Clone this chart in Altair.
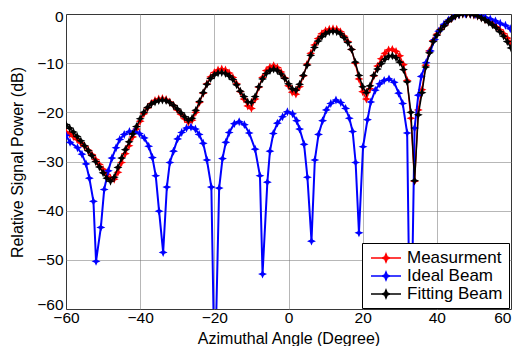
import altair as alt
import pandas as pd

angles = list(range(-60, 61))

measured = [
    -24.0, -24.4, -24.9, -25.5, -26.2, -26.9, -27.7, -28.6, -29.6, -30.6,
    -31.6, -32.6, -33.4, -33.6, -32.2, -30.2, -28.4, -26.8, -25.0, -23.4,
    -21.8, -20.3, -19.1, -18.2, -17.6, -17.3, -17.2, -17.4, -17.9, -18.6,
    -19.5, -20.4, -21.3, -22.0, -21.6, -20.0, -18.0, -16.1, -14.2, -12.8,
    -11.9, -11.4, -11.2, -11.4, -12.0, -12.9, -14.2, -15.8, -17.3, -18.7,
    -19.2, -17.3, -14.9, -12.9, -11.5, -10.8, -10.5, -10.9, -11.8, -13.0,
    -14.6, -15.9, -16.3, -14.8, -12.6, -10.2, -8.0, -6.3, -5.0, -4.0,
    -3.4, -3.1, -3.0, -3.1, -3.6, -4.5, -5.6, -7.2, -10.0, -13.2,
    -15.8, -17.3, -15.2, -12.6, -10.6, -9.1, -8.0, -7.3, -7.2, -7.6,
    -8.5, -10.3, -13.5, -21.2, -34.0, -19.5, -15.4, -10.4, -7.5, -5.4,
    -4.1, -3.1, -2.3, -1.5, -0.9, -0.4, -0.1, 0.0, 0.0, -0.05,
    -0.2, -0.4, -0.7, -1.1, -1.5, -2.0, -2.6, -3.2, -4.0, -4.9, -5.9,
]

fitting = [
    -22.5, -23.2, -24.0, -24.9, -25.8, -26.8, -27.8, -28.8, -30.0, -31.1,
    -32.3, -33.4, -34.0, -33.2, -31.2, -29.3, -27.6, -26.0, -24.4, -22.9,
    -21.3, -20.0, -19.0, -18.3, -17.9, -17.6, -17.5, -17.6, -18.0, -18.6,
    -19.3, -20.1, -20.9, -21.6, -21.2, -19.6, -17.8, -16.0, -14.3, -13.1,
    -12.4, -12.0, -11.9, -12.1, -12.6, -13.3, -14.4, -15.7, -16.8, -17.9,
    -18.0, -16.8, -14.8, -13.2, -12.1, -11.5, -11.2, -11.5, -12.2, -13.1,
    -14.2, -15.2, -15.5, -14.3, -12.5, -10.4, -8.4, -6.8, -5.5, -4.6,
    -4.0, -3.6, -3.5, -3.6, -4.0, -4.8, -5.8, -7.2, -9.8, -12.5,
    -14.8, -16.0, -14.6, -12.5, -11.2, -10.1, -9.2, -8.6, -8.5, -8.9,
    -9.8, -11.3, -13.8, -20.0, -33.9, -20.5, -16.0, -10.8, -7.9, -5.6,
    -4.3, -3.2, -2.4, -1.5, -0.9, -0.4, -0.15, 0.0, 0.0, -0.05,
    -0.15, -0.4, -0.8, -1.2, -1.7, -2.2, -2.8, -3.6, -4.5, -5.6, -6.9,
]

ideal_angle = [
    -60.0, -58.9, -56.9, -55.7, -54.6, -53.7, -52.6, -51.9, -50.6, -49.7,
    -48.6, -47.6, -46.5, -45.5, -44.3, -42.9, -41.6, -40.2, -38.9, -37.7,
    -36.7, -35.8, -34.9, -33.8, -32.8, -32.0, -31.0, -29.9, -28.8, -27.5,
    -26.3, -25.1, -24.1, -23.0, -22.0, -20.8, -19.9, -18.7, -17.8, -16.9,
    -16.0, -14.6, -13.3, -11.9, -10.6, -9.0, -7.7, -7.0, -5.7, -5.0,
    -4.1, -3.0, -1.6, -0.3, 1.1, 2.2, 3.0, 4.2, 5.1, 6.2,
    7.1, 8.1, 9.2, 10.2, 11.4, 12.8, 14.1, 15.4, 16.4, 17.3,
    18.1, 19.0, 20.1, 21.3, 22.2, 23.4, 24.6, 25.8, 27.1, 28.5,
    29.7, 30.8, 32.0, 32.9, 34.0, 35.0, 35.8, 37.1, 38.3, 39.4,
    40.5, 41.9, 43.2, 44.6, 45.9, 47.7, 49.1, 50.4, 51.8, 53.1,
    54.4, 55.8, 57.1, 58.5, 59.8,
]
ideal_power = [
    -24.7, -26.1, -27.2, -28.5, -30.5, -33.4, -38.1, -50.3, -43.4, -35.7,
    -31.9, -29.3, -27.2, -25.5, -24.5, -23.9, -23.9, -24.3, -25.2, -26.9,
    -29.2, -32.9, -40.1, -48.5, -35.2, -30.2, -27.9, -25.4, -24.1, -23.2,
    -23.0, -23.4, -24.5, -26.3, -29.7, -35.2, -75.0, -35.4, -29.4, -26.1,
    -24.1, -22.3, -21.9, -22.5, -24.2, -27.5, -32.9, -52.9, -34.2, -27.9,
    -24.3, -22.2, -20.9, -19.9, -20.3, -21.7, -23.4, -26.5, -33.2, -46.2,
    -29.7, -24.5, -21.7, -19.5, -18.2, -17.5, -18.0, -19.2, -21.2, -23.9,
    -30.2, -44.5, -27.0, -21.5, -17.9, -15.5, -14.2, -13.5, -13.2, -13.9,
    -16.1, -18.2, -24.2, -75.0, -23.2, -16.5, -12.7, -9.9, -7.5, -5.2,
    -3.5, -2.1, -1.2, -0.5, -0.1, 0.0, 0.0, -0.1, -0.3, -0.7,
    -1.0, -1.4, -1.9, -2.3, -3.0,
]

series_names = ["Measurment", "Ideal Beam", "Fitting Beam"]
series_colors = ["#ff0000", "#0000ff", "#000000"]
x_ticks = [-60, -40, -20, 0, 20, 40, 60]
y_ticks = [0, -10, -20, -30, -40, -50, -60]

rows = []
for a, p in zip(angles, measured):
    rows.append({"angle": a, "power": p, "series": "Measurment"})
for a, p in zip(ideal_angle, ideal_power):
    rows.append({"angle": a, "power": p, "series": "Ideal Beam"})
for a, p in zip(angles, fitting):
    rows.append({"angle": a, "power": p, "series": "Fitting Beam"})
df = pd.DataFrame(rows)

FONT = "Liberation Sans"
STAR = "M0,-1L0.3,-0.3L1,0L0.3,0.3L0,1L-0.3,0.3L-1,0L-0.3,-0.3Z"
LEG = ("M-0.75,0L3,0"
       "M1.125,-0.5L1.265,-0.14L1.625,0L1.265,0.14L1.125,0.5L0.985,0.14L0.625,0L0.985,-0.14Z")

xenc = alt.X("angle:Q", scale=alt.Scale(domain=[-60, 60], nice=False, zero=False),
             axis=alt.Axis(values=x_ticks, title="Azimuthal Angle (Degree)",
                           labelFlush=False, labelPadding=1, labelFontSize=15.5,
                           labelAlign={"condition": {"test": "datum.value == 60", "value": "right"},
                                       "value": "center"},
                           titleY=34, titleBaseline="alphabetic", titleFontSize=16))
yenc = alt.Y("power:Q", scale=alt.Scale(domain=[-60, 0], nice=False, zero=False),
             axis=alt.Axis(values=y_ticks, title="Relative Signal Power (dB)",
                           labelPadding=3, labelFlush=False, labelFontSize=15.5,
                           labelOffset={"condition": [
                               {"test": "datum.value == 0", "value": 2},
                               {"test": "datum.value == -60", "value": -5}],
                               "value": 0},
                           titleX=-44, titleY=148, titleAngle=-90, titleFontSize=16,
                           titleBaseline="alphabetic", titleAlign="center"))
cenc = alt.Color("series:N", scale=alt.Scale(domain=series_names, range=series_colors),
                 legend=alt.Legend(title=None, orient="none", legendX=296, legendY=229,
                                   symbolType=LEG, symbolSize=256, symbolStrokeWidth=1.5,
                                   labelFontSize=17, labelFont=FONT, labelColor="black",
                                   labelOffset=21, padding=6, rowPadding=1,
                                   strokeColor="black", fillColor="white",
                                   cornerRadius=0))

layers = []
for name, w in zip(series_names, [1.5, 2.0, 1.5]):
    base = alt.Chart(df).transform_filter(alt.datum.series == name)
    line = base.mark_line(clip=True, strokeWidth=w).encode(
        x=xenc, y=yenc, color=cenc, order="angle:Q")
    pts = base.mark_point(clip=True, shape=STAR, filled=True, size=80, opacity=1).encode(
        x=xenc, y=yenc, color=cenc)
    layers += [line, pts]

chart = alt.layer(*layers).properties(
    width=445, height=295,
    autosize=alt.AutoSizeParams(type="none"),
    padding={"left": 58, "top": 6, "right": 1, "bottom": 37},
).configure_view(stroke="black", strokeWidth=1).configure_axis(
    grid=True, gridColor="#6f6f6f", gridDash=[1, 1], gridWidth=1, gridOpacity=1,
    domain=False, ticks=False, labelFont=FONT, labelColor="black",
    titleFont=FONT, titleFontWeight="normal", titleColor="black",
)

chart.save("out.html", embed_options={"renderer": "svg", "actions": False})
